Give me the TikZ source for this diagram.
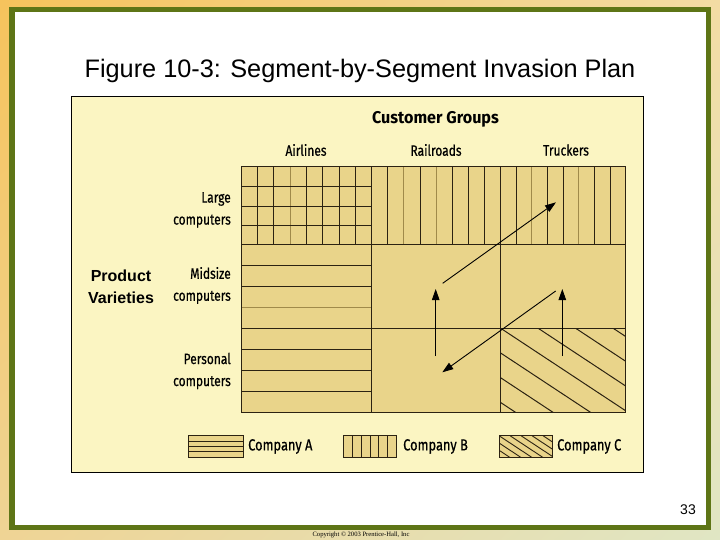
\documentclass[tikz,border=0pt]{standalone}
\usepackage{fontspec}
\setmainfont{Liberation Sans}
\newfontfamily\condf[FakeStretch=0.8,FakeBold=0.6]{Fira Sans}
\newfontfamily\headf[FakeStretch=0.95]{Fira Sans}
\newfontfamily\serf{Liberation Serif}
\usetikzlibrary{arrows.meta,shadings}
\definecolor{frameG}{HTML}{5E7516}
\definecolor{panelY}{HTML}{FBF5C2}
\definecolor{cellT}{HTML}{E9D48A}
\definecolor{lineD}{HTML}{2B2212}
\definecolor{lineL}{HTML}{A08A4A}
\definecolor{bgTL}{HTML}{F6C35C}
\definecolor{bgTR}{HTML}{F3DCA4}
\definecolor{bgBL}{HTML}{EFD495}
\definecolor{bgBR}{HTML}{E0E6C4}
\begin{document}
\begin{tikzpicture}[x=1pt,y=-1pt,
  grid/.style={draw=lineD, line width=1.1pt},
  gridl/.style={draw=lineL, line width=1pt},
  lab/.style={font=\condf\fontsize{15}{22}\selectfont, align=right, anchor=east, inner sep=0pt},
  col/.style={font=\condf\fontsize{15}{18}\selectfont, inner sep=0pt},
  leg/.style={font=\condf\fontsize{16}{18}\selectfont, inner sep=0pt, anchor=west},
  arr/.style={-{Triangle[length=11pt,width=7.5pt]}, line width=0.9pt, draw=black}]
\useasboundingbox (0,0) rectangle (720,540);
\shade[upper left=bgTL, upper right=bgTR, lower left=bgBL, lower right=bgBR] (0,0) rectangle (720,540);
\fill[frameG] (9,7) rectangle (711,530);
\fill[white] (14.5,12.5) rectangle (705.5,524.5);
\node[font=\fontsize{25.3}{29}\selectfont, inner sep=0pt] (title) at (360,70.5) {Figure 10-3: Segment-by-Segment Invasion Plan};
% panel
\draw[fill=panelY, line width=0.8pt] (71,96) rectangle (643,472);
% cells
\fill[cellT] (241.3,166.5) rectangle (625.7,412.7);
% Airlines large: checks
\foreach \k in {1,2,4,5,6,7} \draw[grid] ({241.3+16.3*\k},166.5) -- ({241.3+16.3*\k},244.3);
\draw[gridl] ({241.3+16.3*3},166.5) -- ({241.3+16.3*3},244.3);
\foreach \y in {186.7,206.7,225.7} \draw[grid] (241.3,\y) -- (371.7,\y);
% Railroads large
\foreach \k in {1,3,5,6,7} \draw[grid] ({371.7+16.125*\k},166.5) -- ({371.7+16.125*\k},244.3);
\foreach \k in {2,4} \draw[gridl] ({371.7+16.125*\k},166.5) -- ({371.7+16.125*\k},244.3);
% Truckers large
\foreach \k in {1,3,4,6,7} \draw[grid] ({500.7+15.625*\k},166.5) -- ({500.7+15.625*\k},244.3);
\foreach \k in {2,5} \draw[gridl] ({500.7+15.625*\k},166.5) -- ({500.7+15.625*\k},244.3);
% Airlines midsize / personal
\foreach \y in {265.3,286.3,349.4,370.5,391.6} \draw[grid] (241.3,\y) -- (371.7,\y);
\draw[gridl] (241.3,307.3) -- (371.7,307.3);
% Truckers personal hatch
\begin{scope}
\clip (500.7,328.3) rectangle (625.7,412.7);
\foreach \k in {-4,...,4} \draw[draw=lineD, line width=1pt] ({500.7+37.5*\k},328.3) -- ++(200,132);
\end{scope}
% main grid
\draw[grid] (241.3,166.5) rectangle (625.7,412.7);
\draw[grid] (371.7,166.5) -- (371.7,412.7);
\draw[grid] (500.7,166.5) -- (500.7,412.7);
\draw[grid] (241.3,244.3) -- (625.7,244.3);
\draw[grid] (241.3,328.3) -- (625.7,328.3);
% arrows
\coordinate (a1s) at (442.7,283.3);
\coordinate (a1e) at (556,202.3);
\coordinate (a2s) at (435.7,356);
\coordinate (a2e) at (435.7,289);
\coordinate (a3s) at (562.3,356);
\coordinate (a3e) at (562.3,289);
\coordinate (a4s) at (555.7,291);
\coordinate (a4e) at (442.3,372.3);
\draw[arr] (a1s) -- (a1e);
\draw[arr] (a2s) -- (a2e);
\draw[arr] (a3s) -- (a3e);
\draw[arr] (a4s) -- (a4e);
% labels
\node[font=\headf\bfseries\fontsize{17}{19}\selectfont, inner sep=0pt] (cg) at (435.5,119.5) {Customer Groups};
\node[col] (air) at (306,150) {Airlines};
\node[col] (rail) at (436,150) {Railroads};
\node[col] (truck) at (566,150) {Truckers};
\node[lab] (large) at (231,210) {Large\\computers};
\node[lab] (mid) at (231,285.5) {Midsize\\computers};
\node[lab] (pers) at (231,371) {Personal\\computers};
\node[font=\bfseries\fontsize{16}{22}\selectfont, align=center, inner sep=0pt] (pv) at (121,287) {Product\\Varieties};
% legend
\fill[cellT] (188.3,435.7) rectangle (243.3,457.3);
\foreach \y in {441.1,446.5,451.9} \draw[draw=lineD, line width=0.9pt] (188.3,\y) -- (243.3,\y);
\draw[draw=lineD, line width=1pt] (188.3,435.7) rectangle (243.3,457.3);
\node[leg] (ca) at (248,446.5) {Company A};
\fill[cellT] (343.3,435.7) rectangle (396.7,457.3);
\foreach \k in {1,...,5} \draw[draw=lineD, line width=0.9pt] ({343.3+8.9*\k},435.7) -- ({343.3+8.9*\k},457.3);
\draw[draw=lineD, line width=1pt] (343.3,435.7) rectangle (396.7,457.3);
\node[leg] (cb) at (403,446.5) {Company B};
\fill[cellT] (499,435.7) rectangle (552.7,457.3);
\begin{scope}
\clip (499,435.7) rectangle (552.7,457.3);
\foreach \k in {-3,...,5} \draw[draw=lineD, line width=0.9pt] ({499+11*\k},435.7) -- ++(60,39.6);
\end{scope}
\draw[draw=lineD, line width=1pt] (499,435.7) rectangle (552.7,457.3);
\node[leg] (cc) at (557,446.5) {Company C};
% page number and copyright
\node[font=\fontsize{14}{16}\selectfont, inner sep=0pt] (pg) at (688,510) {33};
\node[font=\serf\fontsize{6.6}{8}\selectfont, inner sep=0pt] (copy) at (361,535) {Copyright © 2003 Prentice-Hall, Inc};
\end{tikzpicture}
\end{document}
